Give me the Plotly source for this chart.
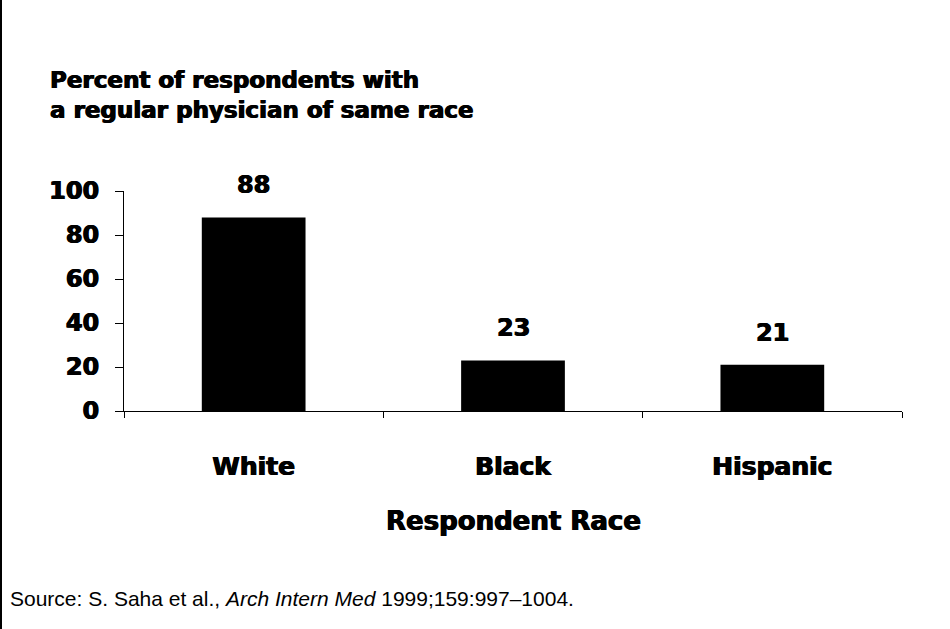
import plotly.graph_objects as go

categories = ["White", "Black", "Hispanic"]
values = [88, 23, 21]
y_ticks = [0, 20, 40, 60, 80, 100]
title_lines = ["Percent of respondents with", "a regular physician of same race"]
x_title = "Respondent Race"

HEAVY = dict(family="'DejaVu Sans', Inter, sans-serif", color="black", weight=700,
             shadow="0.6px 0px 0px black, -0.6px 0px 0px black")

# pixel geometry helpers
L, R, T, B = 124, 48, 191, 218
W, H = 950, 629
PW, PH = W - L - R, H - T - B

def px_x(px):
    return (px - L) / PW

def px_y(py):
    return (H - B - py) / PH

fig = go.Figure()
fig.add_trace(go.Bar(
    x=categories, y=values, marker=dict(color="black", line=dict(width=0)),
    width=0.4, showlegend=False, hoverinfo="skip",
))

for c, v in zip(categories, values):
    fig.add_annotation(x=c, y=v, text=str(v), showarrow=False, yshift=32,
                       font=dict(size=24, **HEAVY), yanchor="middle")

fig.add_annotation(xref="paper", yref="paper", x=px_x(48), y=px_y(95),
                   text="<br>".join(title_lines), showarrow=False, align="left",
                   xanchor="left", yanchor="middle", font=dict(size=23, **HEAVY))

fig.add_annotation(xref="paper", yref="paper", x=0.5, y=px_y(521),
                   text=x_title, showarrow=False, xanchor="center", yanchor="middle",
                   font=dict(size=26, **HEAVY))

fig.add_annotation(xref="paper", yref="paper", x=px_x(8), y=px_y(598),
                   text="Source: S. Saha et al., <i>Arch Intern Med</i> 1999;159:997\u20131004.",
                   showarrow=False, xanchor="left", yanchor="middle",
                   font=dict(size=21, family="'Liberation Sans', Arial, sans-serif", color="black"))

fig.add_shape(type="line", xref="paper", yref="paper", x0=px_x(1), x1=px_x(1),
              y0=px_y(0), y1=px_y(629), line=dict(color="black", width=2))

fig.update_layout(
    width=W, height=H, margin=dict(l=L, r=R, t=T, b=B),
    plot_bgcolor="white", paper_bgcolor="white", bargap=0.6,
    xaxis=dict(showline=True, linecolor="black", linewidth=1, ticks="outside",
               tickson="boundaries", ticklen=6, tickcolor="black",
               tickfont=dict(size=25, **HEAVY), ticklabelstandoff=33,
               showgrid=False, zeroline=False, fixedrange=True),
    yaxis=dict(range=[0, 100], tickvals=y_ticks, showline=True, linecolor="black",
               linewidth=1, ticks="outside", ticklen=8, tickcolor="black",
               tickfont=dict(size=24, **HEAVY), showgrid=False, zeroline=False,
               ticklabelstandoff=11),
)

fig.write_html("out.html")
